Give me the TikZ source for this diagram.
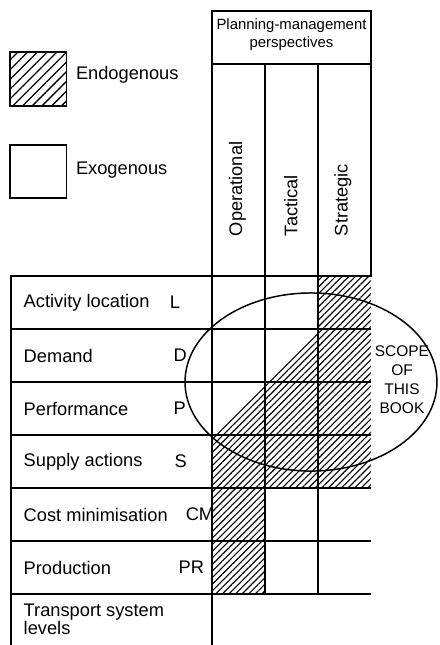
\documentclass[tikz,border=0pt]{standalone}
\usepackage{fontspec}
\setmainfont{Liberation Sans}
\usetikzlibrary{patterns.meta}

\begin{document}
\begin{tikzpicture}[line width=0.8pt,font=\fontsize{9.8}{11.5}\selectfont,
    endo/.style={pattern={Lines[angle=45,distance=2.5pt,line width=0.6pt]}},
    endokey/.style={pattern={Lines[angle=45,distance=3.7pt,line width=0.7pt]}}]
    \useasboundingbox (-4,-0.962) rectangle (4.302,11.208);
    \fill[endo] (0,0) -- (1,0) -- (1,2) -- (3,2) -- (3,6) -- (2,6) -- (2,5) -- (0,3) -- cycle;
    \draw (-3.79,-0.962) -- (-3.79,6) -- (3,6) -- (3,11) -- (0,11) -- (0,-0.962);
    \draw (0,10) -- (3,10);
    \foreach \x in {1,2} {
        \draw (\x,0) -- (\x,10);
    }
    \foreach \y in {0,1,...,5} {
        \draw (-3.79,\y) -- (3,\y);
    }
    \draw (1.868,4.0) ellipse [x radius=2.377, y radius=1.68];
    \draw[endokey] (-3.81,9.21) rectangle (-2.75,10.23);
    \draw (-3.81,7.47) rectangle (-2.75,8.47);
    \node[anchor=west,inner sep=0pt] (endo) at (-2.58,9.79) {Endogenous};
    \node[anchor=west,inner sep=0pt] (exo) at (-2.58,8.0) {Exogenous};
    \node[align=center,font=\fontsize{8}{9.7}\selectfont] (perspectives) at (1.5,10.55) {Planning-management\\perspectives};
    \foreach \level/\x [count=\i] in {Operational/0.48, Tactical/1.49, Strategic/2.47} {
        \node[rotate=90,anchor=west,inner sep=0pt] (level\i) at (\x,6.74) {\level};
    }
    \foreach \name/\letter/\pos [count=\i] in {Activity location/L/-0.811, Demand/D/-0.736, Performance/P/-0.736, Supply actions/S/-0.717, Cost minimisation/CM/-0.509, Production/PR/-0.642} {
        \node[anchor=west,inner sep=0pt] (row\i) at (-3.566,6.5-\i) {\name};
        \node[anchor=west,inner sep=0pt] (key\i) at (\pos,6.5-\i) {\letter};
    }
    \node[anchor=north west,align=left,inner sep=0pt,font=\fontsize{9.8}{9.7}\selectfont] (levels) at (-3.566,-0.18) {Transport system\\levels};
    \node[align=center,font=\fontsize{8.3}{10.2}\selectfont] (scope) at (3.585,4.04) {SCOPE\\OF\\THIS\\BOOK};
\end{tikzpicture}
\end{document}
